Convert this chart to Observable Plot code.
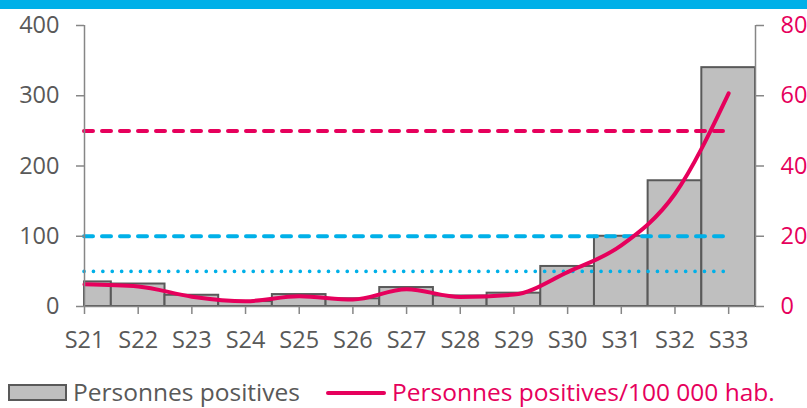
<!DOCTYPE html>
<html>
<head>
<meta charset="utf-8">
<script src="https://cdn.jsdelivr.net/npm/d3@7"></script>
<script src="https://cdn.jsdelivr.net/npm/@observablehq/plot@0.6"></script>
<style>
  html, body { margin: 0; padding: 0; background: #fff; }
  body { width: 807px; height: 408px; overflow: hidden; font-family: "Open Sans", sans-serif; }
  #band { height: 9px; background: #00b0e8; }
  #legend { position: relative; height: 39px; font-size: 24.5px; line-height: 1; }
  .item { position: absolute; top: 11px; display: flex; align-items: center; height: 25px; white-space: nowrap; }
  .box { width: 55px; height: 13px; background: #bfbfbf; border: 2px solid #595959; margin-right: 6px; }
  .ln { width: 60px; height: 4px; background: #e6005c; margin-right: 6px; border-radius: 2px; }
</style>
</head>
<body>
<div id="band"></div>
<div id="chart"></div>
<div id="legend">
  <div class="item" style="left:8px;color:#595959;"><span class="box"></span>Personnes positives</div>
  <div class="item" style="left:326px;color:#e6005c;"><span class="ln"></span>Personnes positives/100 000 hab.</div>
</div>
<script>
const weeks = ["S21","S22","S23","S24","S25","S26","S27","S28","S29","S30","S31","S32","S33"];
const positives = [35, 32, 16, 7, 17, 11, 27, 15, 19, 57, 100, 179, 340];
const ratePer100k = [6.3, 5.7, 2.8, 1.5, 2.9, 2.0, 4.9, 2.7, 3.4, 9.8, 17.4, 32.1, 60.7];
const thresholds = [
  {value: 50, color: "#e6005c", dash: "9,9", width: 4},
  {value: 20, color: "#00b0e8", dash: "9,9", width: 4},
  {value: 10, color: "#00b0e8", dash: "0.1,9.3", width: 3.6}
];
const leftTicks = [0, 100, 200, 300, 400];
const rightMax = 80;
const leftMax = 400;
const ratio = leftMax / rightMax;

const n = weeks.length;
const bars = weeks.map((w, i) => ({i, w, v: positives[i]}));
const rates = weeks.map((w, i) => ({i, w, v: ratePer100k[i] * ratio}));
const refs = thresholds.map(t => ({...t, y: t.value * ratio}));

const axisColor = "#868686";
const textColor = "#595959";
const red = "#e6005c";

const marks = [
  Plot.rect(bars, {
    x1: d => Math.max(d.i - 0.5, 0), x2: d => d.i + 0.5, y1: 0, y2: "v",
    fill: "#bfbfbf", stroke: "#595959", strokeWidth: 2
  }),
  ...refs.map(r => Plot.ruleY([r], {
    y: "y", x1: 0, x2: n - 1, stroke: r.color, strokeWidth: r.width,
    strokeDasharray: r.dash, strokeLinecap: "round"
  })),
  Plot.line(rates, {x: "i", y: "v", stroke: red, strokeWidth: 4, curve: "monotone-x", strokeLinejoin: "round"}),
  Plot.ruleX([0], {stroke: axisColor, strokeWidth: 1.5}),
  Plot.ruleX([n - 0.5], {stroke: axisColor, strokeWidth: 1.5}),
  Plot.ruleY([0], {stroke: axisColor, strokeWidth: 1.5}),
  Plot.axisY({anchor: "left", ticks: leftTicks, tickSize: 8, tickPadding: 17, stroke: axisColor, strokeWidth: 1.5, fill: textColor, label: null}),
  Plot.axisY({anchor: "right", ticks: leftTicks, tickFormat: d => d / ratio, tickSize: 8, tickPadding: 17, stroke: axisColor, strokeWidth: 1.5, fill: red, label: null}),
  Plot.axisX({anchor: "bottom", ticks: d3.range(n), tickFormat: i => weeks[i], tickSize: 8, tickPadding: 17, stroke: axisColor, strokeWidth: 1.5, fill: textColor, label: null})
];

const chart = Plot.plot({
  width: 807,
  height: 360,
  marginLeft: 84,
  marginRight: 52,
  marginTop: 16,
  marginBottom: 63,
  style: {fontSize: "23.5px", fontFamily: "Open Sans, sans-serif", background: "#fff", overflow: "visible"},
  x: {type: "linear", domain: [0, n - 0.5], axis: null},
  y: {domain: [0, leftMax], axis: null},
  marks
});
document.getElementById("chart").appendChild(chart);
</script>
</body>
</html>
